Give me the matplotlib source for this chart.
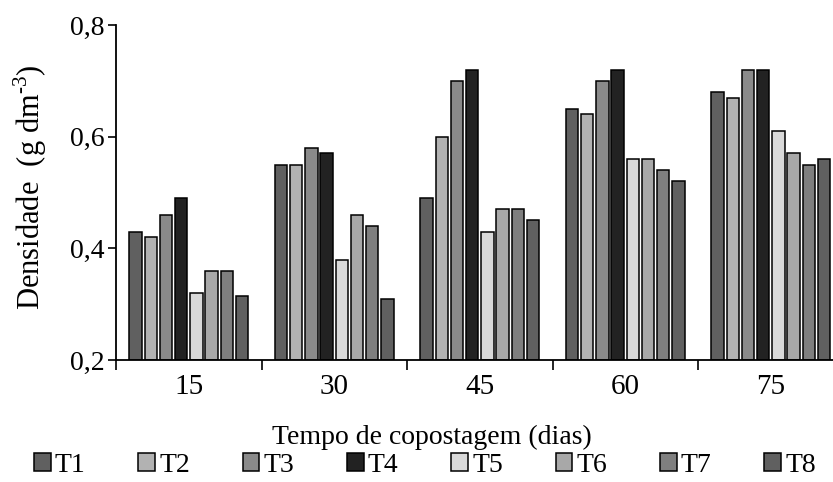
import numpy as np
import matplotlib.pyplot as plt

plt.rcParams['font.family'] = 'Liberation Serif'
plt.rcParams['mathtext.fontset'] = 'custom'
plt.rcParams['mathtext.rm'] = 'Liberation Serif'

dias = ['15', '30', '45', '60', '75']
trat = ['T1', 'T2', 'T3', 'T4', 'T5', 'T6', 'T7', 'T8']
T1 = [0.43, 0.55, 0.49, 0.65, 0.68]
T2 = [0.42, 0.55, 0.60, 0.64, 0.67]
T3 = [0.46, 0.58, 0.70, 0.70, 0.72]
T4 = [0.49, 0.57, 0.72, 0.72, 0.72]
T5 = [0.32, 0.38, 0.43, 0.56, 0.61]
T6 = [0.36, 0.46, 0.47, 0.56, 0.57]
T7 = [0.36, 0.44, 0.47, 0.54, 0.55]
T8 = [0.315, 0.31, 0.45, 0.52, 0.56]
cores = ['#606060', '#b2b2b2', '#8a8a8a', '#222222', '#d9d9d9', '#a8a8a8', '#7f7f7f', '#606060']

fig = plt.figure(figsize=(8.33, 4.82), dpi=100)
ax = fig.add_axes([0.1393, 0.2531, 0.8733, 0.6949])

x = np.arange(len(dias)) + 0.5
passo = 0.1045
for j, vals in enumerate([T1, T2, T3, T4, T5, T6, T7, T8]):
    ax.bar(x + (j - 3.5) * passo, np.array(vals) - 0.2, 0.085, bottom=0.2,
           color=cores[j], edgecolor='black', linewidth=1.1, label=trat[j])

ax.set_xlim(0, 5)
ax.set_ylim(0.2, 0.8)
ax.set_yticks([0.2, 0.4, 0.6, 0.8])
ax.set_yticklabels(['0,2', '0,4', '0,6', '0,8'], fontsize=20)
ax.set_xticks(range(6))
ax.set_xticklabels([])
ax.set_xticks(x, minor=True)
ax.set_xticklabels(dias, minor=True, fontsize=21)
ax.tick_params(axis='x', which='minor', length=0, pad=10)
ax.tick_params(axis='x', which='major', length=7, width=1.2, direction='out')
ax.tick_params(axis='y', length=6, width=1.2, direction='out', pad=2)
for s in ['top', 'right']:
    ax.spines[s].set_visible(False)
for s in ['left', 'bottom']:
    ax.spines[s].set_linewidth(1.3)

fig.text(0.519, 0.093, 'Tempo de copostagem (dias)', ha='center', va='center', fontsize=20)
fig.text(0.036, 0.612, 'Densidade  (g dm$^{\\mathregular{\u20103}}$)', rotation=90,
         ha='center', va='center', fontsize=22)

fig.legend(loc='center', bbox_to_anchor=(0.51, 0.035), ncol=8, frameon=False,
           fontsize=20, handlelength=0.6, handleheight=0.6, handletextpad=0.15,
           columnspacing=1.9, borderpad=0)

fig.savefig('out.png', dpi=100)
